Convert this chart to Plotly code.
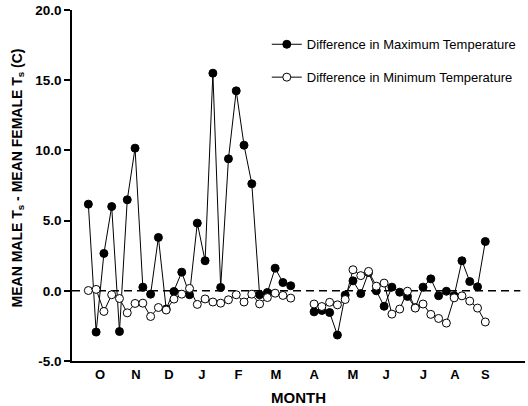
import plotly.graph_objects as go

# Week index (weekly sampling, two missing weeks at 27-28)
weeks = list(range(52))

max_diff = [6.17, -2.94, 2.66, 6.0, -2.9, 6.48, 10.16, 0.26, -0.24, 3.8,
            -1.3, -0.05, 1.33, -0.28, 4.82, 2.14, 15.5, 0.24, 9.4, 14.24,
            10.37, 7.62, -0.28, -0.12, 1.61, 0.59, 0.36, None, None, -1.5,
            -1.4, -1.55, -3.15, -0.3, 0.71, -0.2, 1.3, 0.0, -1.1, 0.26,
            -0.1, -0.4, -1.2, 0.26, 0.85, -0.35, -0.03, -0.35, 2.14, 0.66,
            0.28, 3.51]

min_diff = [0.02, 0.1, -1.47, -0.28, -0.55, -1.57, -0.9, -0.88, -1.83, -1.19,
            -1.37, -0.59, -0.24, 0.17, -0.97, -0.58, -0.8, -0.88, -0.64, -0.28,
            -0.8, -0.24, -0.93, -0.48, -0.17, -0.33, -0.52, None, None, -0.94,
            -1.12, -0.82, -1.0, -0.62, 1.5, 1.08, 1.38, 0.33, 0.55, -1.66,
            -1.3, -0.03, -1.23, -0.94, -1.68, -1.97, -2.3, -0.5, -0.36, -0.73,
            -1.23, -2.22]

month_labels = ["O", "N", "D", "J", "F", "M", "A", "M", "J", "J", "A", "S"]
month_pos = [1.5, 6.1, 10.37, 14.57, 19.28, 24.1, 29.0, 33.98, 38.26, 43.05, 47.1, 50.99]

y_ticks = [-5, 0, 5, 10, 15, 20]
y_tick_labels = ["-5.0", "0.0", "5.0", "10.0", "15.0", "20.0"]

FONT = "Arial, Liberation Sans, sans-serif"

fig = go.Figure()

fig.add_trace(go.Scatter(
    x=weeks, y=max_diff, mode="lines+markers",
    name="Difference in Maximum Temperature",
    legendgroup="a",
    line=dict(color="black", width=1),
    marker=dict(symbol="circle", size=8, color="black",
                line=dict(color="black", width=1)),
    connectgaps=False,
))

fig.add_trace(go.Scatter(
    x=weeks, y=min_diff, mode="lines+markers",
    name="Difference in Minimum Temperature",
    legendgroup="b",
    line=dict(color="black", width=1),
    marker=dict(symbol="circle", size=8, color="white",
                line=dict(color="black", width=1)),
    connectgaps=False,
))

fig.add_shape(type="line", xref="x", yref="y", x0=-2.1, x1=55.5, y0=0, y1=0,
              line=dict(color="black", width=1.5, dash="8px,5px"), layer="below")

fig.add_annotation(
    text="MEAN MALE T<sub>s</sub> - MEAN FEMALE T<sub>s</sub> (C)",
    xref="paper", yref="paper", x=0, y=0.52, xanchor="center", yanchor="middle",
    xshift=-54, textangle=-90, showarrow=False,
    font=dict(size=14, family=FONT, weight="bold", color="black"),
)
fig.add_annotation(
    text="MONTH",
    xref="paper", yref="paper", x=0.5, y=0, xanchor="center", yanchor="middle",
    yshift=-36, showarrow=False,
    font=dict(size=15, family=FONT, weight="bold", color="black"),
)

fig.update_layout(
    width=528, height=406,
    margin=dict(l=72, r=3, t=10, b=45),
    paper_bgcolor="white", plot_bgcolor="white",
    font=dict(family=FONT, color="black"),
    showlegend=True,
    legend=dict(
        x=0.43, y=0.945, xanchor="left", yanchor="top",
        bgcolor="rgba(0,0,0,0)", borderwidth=0,
        font=dict(size=13, family=FONT, color="black"),
        tracegroupgap=13,
    ),
    xaxis=dict(
        range=[-2.1, 56.1], automargin=False,
        showline=True, linecolor="black", linewidth=2,
        showgrid=False, zeroline=False,
        tickmode="array", tickvals=month_pos, ticktext=month_labels,
        ticks="",
        tickfont=dict(size=13, family=FONT, weight="bold"),
    ),
    yaxis=dict(
        range=[-5, 20], automargin=False,
        showline=True, linecolor="black", linewidth=1.5,
        showgrid=False, zeroline=False,
        tickmode="array", tickvals=y_ticks, ticktext=y_tick_labels,
        ticks="outside", ticklen=6, tickwidth=1.5, tickcolor="black",
        ticklabeloverflow="allow",
        tickfont=dict(size=13.5, family=FONT, weight="bold"),
    ),
)

fig.write_html("out.html", config={"displayModeBar": False},
               post_script="document.body.style.margin='0';")
